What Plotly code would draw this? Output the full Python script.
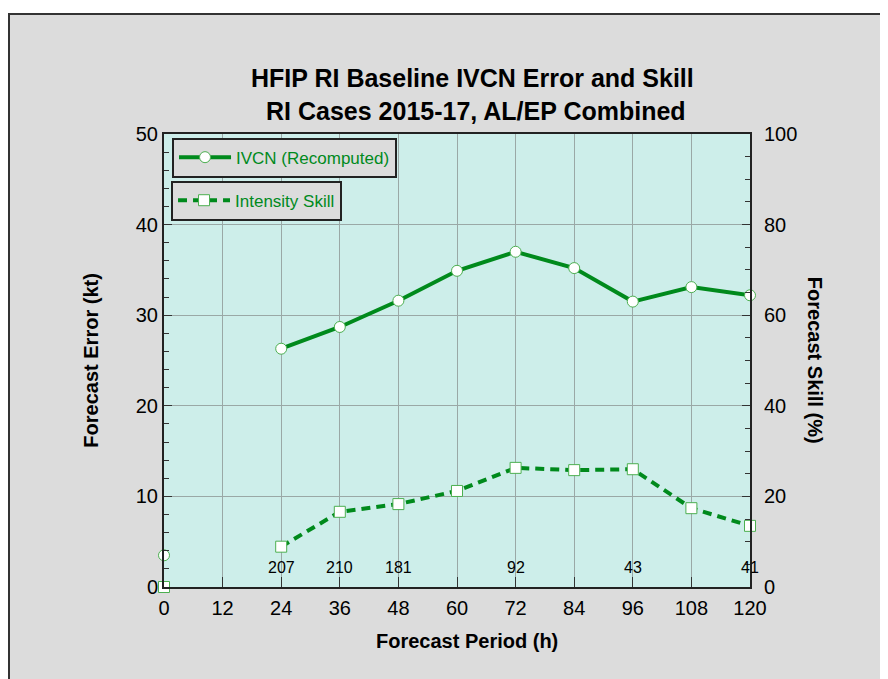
import plotly.graph_objects as go

hours = [0, 12, 24, 36, 48, 60, 72, 84, 96, 108, 120]
ivcn_error = [3.5, None, 26.3, 28.7, 31.6, 34.9, 37.0, 35.2, 31.5, 33.1, 32.2]
intensity_skill = [0.0, None, 8.9, 16.6, 18.3, 21.2, 26.3, 25.8, 26.0, 17.4, 13.5]
case_hours = [24, 36, 48, 72, 96, 120]
case_counts = ["207", "210", "181", "92", "43", "41"]
x_ticks = [0, 12, 24, 36, 48, 60, 72, 84, 96, 108, 120]

GREEN = "#008a1c"
FONT = "Arial, Liberation Sans, sans-serif"

fig = go.Figure()
fig.add_trace(go.Scatter(
    x=hours, y=ivcn_error, name="IVCN (Recomputed)", mode="lines+markers",
    line=dict(color=GREEN, width=4),
    marker=dict(symbol="circle", size=11, color="white", line=dict(color="#4caf50", width=1)),
    connectgaps=False, cliponaxis=False, legend="legend", showlegend=True, yaxis="y"))
fig.add_trace(go.Scatter(
    x=hours, y=intensity_skill, name="Intensity Skill", mode="lines+markers",
    line=dict(color=GREEN, width=4, dash="9px,6px"),
    marker=dict(symbol="square", size=11, color="white", line=dict(color="#4caf50", width=1)),
    connectgaps=False, cliponaxis=False, legend="legend2", showlegend=True, yaxis="y2"))

for h, c in zip(case_hours, case_counts):
    fig.add_annotation(x=h, y=2.2, xref="x", yref="y", text=c, showarrow=False,
                       font=dict(size=16, color="black", family=FONT))

# frame
fig.add_shape(type="rect", xref="paper", yref="paper", x0=-0.2645, x1=1.25, y0=-0.25, y1=1.265,
              fillcolor="#dcdcdc", line=dict(color="#333333", width=2), layer="below")
fig.add_shape(type="rect", xref="paper", yref="paper", x0=0, x1=1, y0=0, y1=1,
              fillcolor="#cdeeea", line=dict(width=0), layer="below")

fig.add_annotation(x=0.5256, y=1.088, xref="paper", yref="paper", showarrow=False,
                   text="<b>HFIP RI Baseline IVCN Error and Skill</b><br><b> RI Cases 2015-17, AL/EP Combined</b>",
                   font=dict(size=25, color="black", family=FONT), xanchor="center", yanchor="middle")
fig.add_annotation(x=-0.126, y=0.5, xref="paper", yref="paper", showarrow=False, textangle=-90,
                   xanchor="center", yanchor="middle",
                   text="<b>Forecast Error (kt)</b>", font=dict(size=20, color="black", family=FONT))
fig.add_annotation(x=1.112, y=0.5, xref="paper", yref="paper", showarrow=False, textangle=90,
                   xanchor="center", yanchor="middle",
                   text="<b>Forecast Skill (%)</b>", font=dict(size=20, color="black", family=FONT))
fig.add_annotation(x=0.517, y=-0.119, xref="paper", yref="paper", showarrow=False,
                   xanchor="center", yanchor="middle",
                   text="<b>Forecast Period (h)</b>", font=dict(size=20, color="black", family=FONT))

fig.update_layout(
    width=880, height=671,
    margin=dict(l=156, r=138, t=126, b=92),
    paper_bgcolor="white", plot_bgcolor="rgba(0,0,0,0)",
    font=dict(family=FONT, color="black"),
    showlegend=True,
    xaxis=dict(range=[0, 120], tickvals=x_ticks, ticktext=[str(t) for t in x_ticks],
               showgrid=True, gridcolor="#9aa8a6", gridwidth=1,
               showline=True, linecolor="#222222", linewidth=2, mirror=True,
               ticks="inside", ticklen=10, tickcolor="#333333",
               tickfont=dict(size=20), ticklabelstandoff=2, zeroline=False),
    yaxis=dict(range=[0, 50], dtick=10, showgrid=True, gridcolor="#9aa8a6", gridwidth=1,
               showline=True, linecolor="#222222", linewidth=2,
               ticks="inside", ticklen=8, tickcolor="#333333",
               minor=dict(dtick=2, ticks="inside", ticklen=5, tickcolor="#333333", showgrid=False),
               tickfont=dict(size=20), zeroline=False),
    yaxis2=dict(range=[0, 100], dtick=20, overlaying="y", side="right", showgrid=False,
                showline=True, linecolor="#222222", linewidth=2,
                ticks="inside", ticklen=8, tickcolor="#333333",
                minor=dict(dtick=5, ticks="inside", ticklen=5, tickcolor="#333333"),
                tickfont=dict(size=20), ticklabelstandoff=8, zeroline=False),
    legend=dict(x=0.0137, y=0.992, xanchor="left", yanchor="top", itemwidth=52,
                bgcolor="#dcdcdc", bordercolor="#222222", borderwidth=2,
                font=dict(size=17, color=GREEN, family=FONT)),
    legend2=dict(x=0.012, y=0.897, xanchor="left", yanchor="top", itemwidth=52,
                 bgcolor="#dcdcdc", bordercolor="#222222", borderwidth=2,
                 font=dict(size=17, color=GREEN, family=FONT)),
)

fig.write_html("out.html")
